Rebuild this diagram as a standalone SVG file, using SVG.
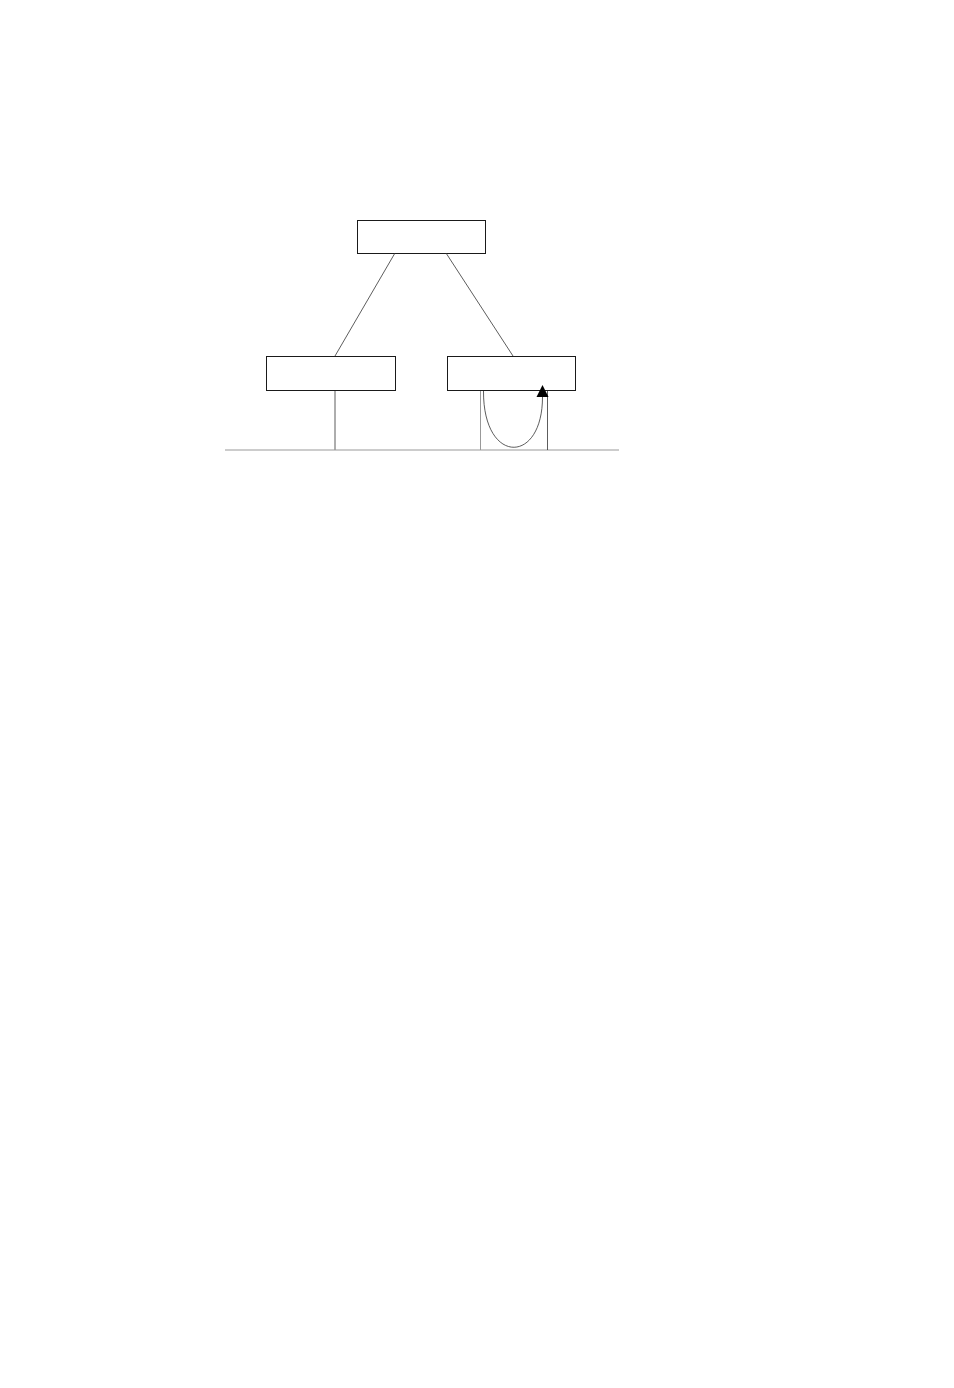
<svg xmlns="http://www.w3.org/2000/svg" width="954" height="1388" viewBox="0 0 954 1388">
<style>
.box{fill:#fff;stroke:#1a1a1a;stroke-width:1}
.ln{fill:none;stroke:#333;stroke-width:0.8}
.lt{fill:none;stroke:#999;stroke-width:1}
</style>
<rect width="954" height="1388" fill="#fff"/>
<g id="top"><rect class="box" x="357.5" y="220.5" width="128" height="33"/></g>
<g id="left"><rect class="box" x="266.5" y="356.5" width="129" height="34"/></g>
<g id="right"><rect class="box" x="447.5" y="356.5" width="128" height="34"/></g>
<g id="connectors">
<line class="ln" x1="395" y1="253" x2="335" y2="356"/>
<line class="ln" x1="446" y1="253" x2="513" y2="356"/>
<line class="ln" x1="335" y1="391" x2="335" y2="450"/>
<line class="lt" x1="225" y1="450" x2="619" y2="450"/>
<line class="lt" x1="480.5" y1="391" x2="480.5" y2="450"/>
<line class="ln" x1="547.5" y1="391" x2="547.5" y2="450"/>
<path class="ln" d="M483.5,391 C483,465 542.5,465 542.5,397"/>
<path d="M542.5,385 L548.5,397 L536.5,397 z" fill="#000"/>
</g>
</svg>
